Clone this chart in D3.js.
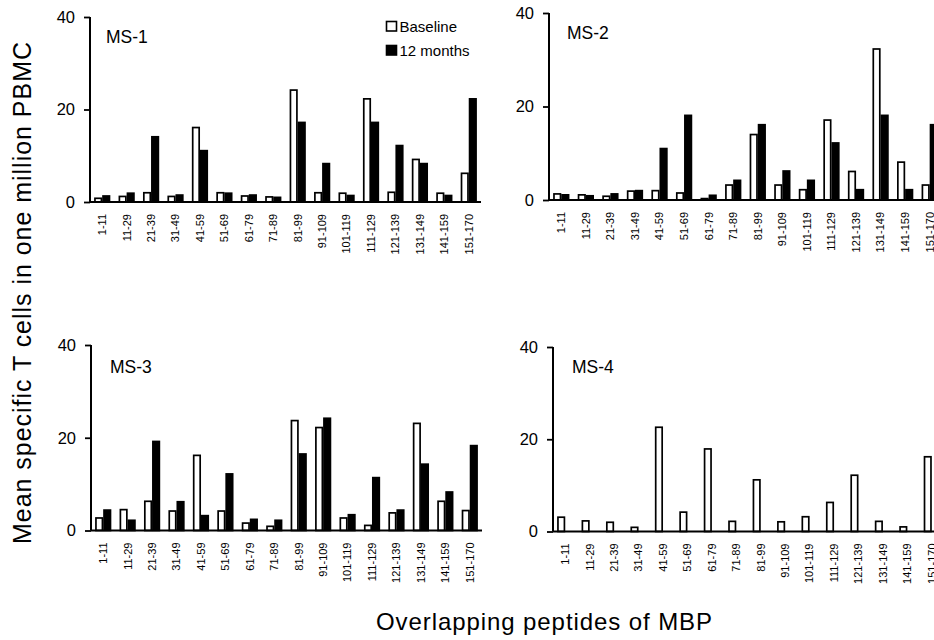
<!DOCTYPE html>
<html>
<head>
<meta charset="utf-8">
<script src="https://cdn.jsdelivr.net/npm/d3@7"></script>
<style>
  body { margin: 0; background: #fff; }
  svg { display: block; font-family: Arial, "Liberation Sans", sans-serif; }
</style>
</head>
<body>
<svg id="chart" width="934" height="640"></svg>
<script>
const categories = ["1-11","11-29","21-39","31-49","41-59","51-69","61-79","71-89","81-99","91-109","101-119","111-129","121-139","131-149","141-159","151-170"];
const seriesNames = ["Baseline", "12 months"];
const yTicks = [0, 20, 40];

const ms1Baseline = [0.8,1.2,2.0,1.2,16.1,2.0,1.3,1.1,24.2,2.0,1.9,22.3,2.1,9.2,1.9,6.2];
const ms1Month12  = [1.3,1.9,14.1,1.5,11.1,1.9,1.5,1.0,17.2,8.3,1.4,17.2,12.2,8.3,1.4,22.3];
const ms2Baseline = [1.3,1.1,0.8,1.9,2.0,1.5,0.3,3.2,14.0,3.2,2.2,17.1,6.1,32.3,8.1,3.2];
const ms2Month12  = [1.1,0.9,1.3,2.0,11.0,18.1,1.0,4.2,16.1,6.2,4.2,12.2,2.2,18.1,2.2,16.1];
const ms3Baseline = [2.7,4.5,6.3,4.2,16.2,4.2,1.6,0.9,23.7,22.2,2.7,1.1,3.8,23.1,6.3,4.3];
const ms3Month12  = [4.4,2.2,19.2,6.2,3.2,12.2,2.4,2.2,16.5,24.2,3.4,11.4,4.4,14.3,8.3,18.3];
const ms4Baseline = [3.1,2.3,2.0,0.9,22.6,4.2,17.9,2.2,11.2,2.1,3.2,6.3,12.2,2.2,1.0,16.2];
const ms4Month12  = null;

const panelNames = ["MS-1","MS-2","MS-3","MS-4"];

const panels = [
  {name: panelNames[0], base: ms1Baseline, m12: ms1Month12, x0: 90,  x1: 481, yT: 17,  y0: 202,   lab: [106, 43], legend: true},
  {name: panelNames[1], base: ms2Baseline, m12: ms2Month12, x0: 549, x1: 942, yT: 13,  y0: 200,   lab: [567, 39]},
  {name: panelNames[2], base: ms3Baseline, m12: ms3Month12, x0: 91,  x1: 482, yT: 345, y0: 530.5, lab: [110, 373]},
  {name: panelNames[3], base: ms4Baseline, m12: ms4Month12, x0: 553, x1: 944, yT: 347, y0: 531.5, lab: [572, 373]}
];

const svg = d3.select("#chart");

panels.forEach(p => {
  const g = svg.append("g");
  const x = d3.scaleBand().domain(categories).range([p.x0, p.x1]).paddingInner(0.34).paddingOuter(0.17);
  const xs = d3.scaleBand().domain(seriesNames).range([0, x.bandwidth()]);
  const y = d3.scaleLinear().domain([0, 40]).range([p.y0, p.yT]);

  const rows = categories.map((c, i) => ({c, vals: [
    {s: seriesNames[0], v: p.base[i]},
    ...(p.m12 ? [{s: seriesNames[1], v: p.m12[i]}] : [])
  ]}));

  const grp = g.selectAll("g.cat").data(rows).join("g")
    .attr("transform", d => `translate(${x(d.c)},0)`);
  grp.selectAll("rect").data(d => d.vals).join("rect")
    .attr("x", d => xs(d.s) + 0.8)
    .attr("width", xs.bandwidth() - 1.6)
    .attr("y", d => y(d.v))
    .attr("height", d => y(0) - y(d.v))
    .attr("fill", d => d.s === seriesNames[0] ? "#fff" : "#000")
    .attr("stroke", "#000")
    .attr("stroke-width", 1.7);

  // y axis
  const ya = g.append("g").attr("transform", `translate(${p.x0},0)`)
    .call(d3.axisLeft(y).tickValues(yTicks).tickSize(6).tickPadding(9).tickFormat(d3.format("d")));
  ya.select(".domain").attr("d", `M0,${p.y0}V${p.yT}`).attr("stroke-width", 2);
  ya.selectAll(".tick line").attr("stroke-width", 1.8);
  ya.selectAll("text").attr("font-size", 16.5).attr("font-family", "Arial, 'Liberation Sans', sans-serif").attr("fill", "#000");

  // x axis
  const xa = g.append("g").attr("transform", `translate(0,${p.y0})`)
    .call(d3.axisBottom(x).tickSize(0).tickPadding(0));
  xa.select(".domain").attr("d", `M${p.x0},0H${p.x1}`).attr("stroke-width", 2);
  xa.selectAll("text")
    .attr("font-size", 11)
    .attr("font-family", "Arial, 'Liberation Sans', sans-serif")
    .attr("fill", "#000")
    .attr("text-anchor", "end")
    .attr("transform", "rotate(-90)")
    .attr("x", -12)
    .attr("y", 0)
    .attr("dy", "0.35em");

  // panel label
  g.append("text").attr("x", p.lab[0]).attr("y", p.lab[1])
    .attr("font-size", 17.5).attr("fill", "#000").text(p.name);

  if (p.legend) {
    const lg = g.append("g");
    const items = [{s: seriesNames[0], y: 21}, {s: seriesNames[1], y: 45}];
    items.forEach(it => {
      lg.append("rect").attr("x", 386.5).attr("y", it.y + 0.5).attr("width", 10).attr("height", 9.5)
        .attr("fill", it.s === seriesNames[0] ? "#fff" : "#000")
        .attr("stroke", "#000").attr("stroke-width", 1.6);
      lg.append("text").attr("x", 399.5).attr("y", it.y + 10.5)
        .attr("font-size", 15).attr("fill", "#000").text(it.s);
    });
  }
});

// axis titles
svg.append("text")
  .attr("transform", "translate(31,293) rotate(-90)")
  .attr("text-anchor", "middle")
  .attr("font-size", 25)
  .attr("textLength", 502)
  .attr("lengthAdjust", "spacing")
  .attr("fill", "#000")
  .text("Mean specific T cells in one million PBMC");

svg.append("text")
  .attr("x", 544).attr("y", 630)
  .attr("text-anchor", "middle")
  .attr("font-size", 24)
  .attr("textLength", 336)
  .attr("lengthAdjust", "spacing")
  .attr("fill", "#000")
  .text("Overlapping peptides of MBP");
</script>
</body>
</html>
